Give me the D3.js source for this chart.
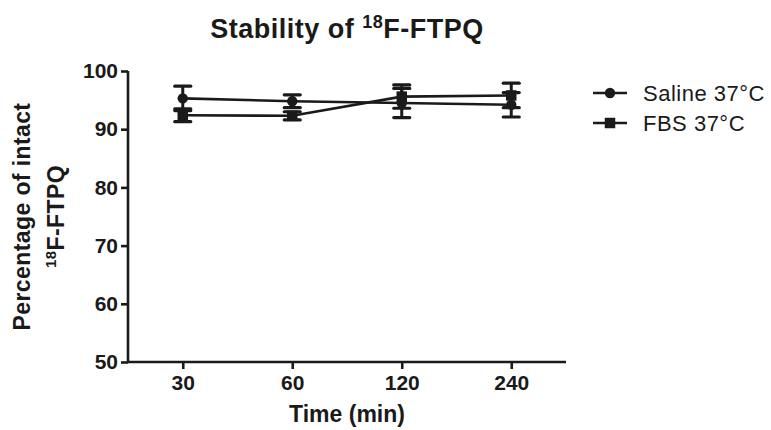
<!DOCTYPE html>
<html>
<head>
<meta charset="utf-8">
<script src="https://cdn.jsdelivr.net/npm/d3@7"></script>
<style>
  body { margin: 0; background: #fff; }
  text { font-family: "Liberation Sans", Arial, sans-serif; fill: #1a1a1a; }
</style>
</head>
<body>
<svg id="chart"></svg>
<script>
const TIMES = ["30", "60", "120", "240"];
const SALINE_MEAN = [95.3, 94.8, 94.5, 94.2];
const SALINE_ERR = [2.1, 1.1, 2.5, 2.1];
const FBS_MEAN = [92.4, 92.3, 95.6, 95.8];
const FBS_ERR = [1.1, 0.7, 2.0, 2.1];
const Y_TICKS = [50, 60, 70, 80, 90, 100];
const SERIES_NAMES = ["Saline 37\u00B0C", "FBS 37\u00B0C"];

const WIDTH = 771;
const HEIGHT = 430;
const PLOT = { left: 128, right: 566, top: 71, bottom: 362 };
const INK = "#1a1a1a";

const series = [
  { name: SERIES_NAMES[0], symbol: d3.symbolCircle, size: 85,
    points: TIMES.map((t, i) => ({ t, v: SALINE_MEAN[i], e: SALINE_ERR[i] })) },
  { name: SERIES_NAMES[1], symbol: d3.symbolSquare, size: 110,
    points: TIMES.map((t, i) => ({ t, v: FBS_MEAN[i], e: FBS_ERR[i] })) },
];

const xScale = d3.scalePoint()
  .domain(TIMES)
  .range([PLOT.left, PLOT.right])
  .padding(0.5);

const yScale = d3.scaleLinear()
  .domain([50, 100])
  .range([PLOT.bottom, PLOT.top]);

const svg = d3.select("#chart")
  .attr("width", WIDTH)
  .attr("height", HEIGHT);

// axes
const xAxis = svg.append("g")
  .attr("transform", `translate(0, ${PLOT.bottom})`)
  .call(d3.axisBottom(xScale).tickSize(7).tickSizeOuter(0).tickPadding(6));

const yAxis = svg.append("g")
  .attr("transform", `translate(${PLOT.left}, 0)`)
  .call(d3.axisLeft(yScale).tickValues(Y_TICKS).tickSize(7).tickSizeOuter(0).tickPadding(3));

[xAxis, yAxis].forEach(ax => {
  ax.select(".domain").attr("stroke", INK).attr("stroke-width", 2.6);
  ax.selectAll(".tick line").attr("stroke", INK).attr("stroke-width", 2.6);
  ax.selectAll(".tick text")
    .attr("fill", INK)
    .style("font-family", '"Liberation Sans", Arial, sans-serif')
    .style("font-size", "21px")
    .style("font-weight", "bold");
});
xAxis.select(".domain").attr("d", `M${PLOT.left},0H${PLOT.right}`);
yAxis.select(".domain").attr("d", `M0,${PLOT.top}V${PLOT.bottom}`);

// lines
const line = d3.line()
  .x(d => xScale(d.t))
  .y(d => yScale(d.v));

svg.selectAll(".series-line")
  .data(series)
  .enter()
  .append("path")
  .attr("class", "series-line")
  .attr("d", s => line(s.points))
  .attr("fill", "none")
  .attr("stroke", INK)
  .attr("stroke-width", 2.6);

// error bars
const CAP = 8;
series.forEach(s => {
  const g = svg.append("g");
  g.selectAll("line.err")
    .data(s.points)
    .enter()
    .append("line")
    .attr("class", "err")
    .attr("x1", d => xScale(d.t))
    .attr("x2", d => xScale(d.t))
    .attr("y1", d => yScale(d.v - d.e))
    .attr("y2", d => yScale(d.v + d.e))
    .attr("stroke", INK)
    .attr("stroke-width", 3);
  ["top", "bottom"].forEach(side => {
    g.selectAll("line.cap-" + side)
      .data(s.points)
      .enter()
      .append("line")
      .attr("class", "cap-" + side)
      .attr("x1", d => xScale(d.t) - CAP)
      .attr("x2", d => xScale(d.t) + CAP)
      .attr("y1", d => yScale(side === "top" ? d.v + d.e : d.v - d.e))
      .attr("y2", d => yScale(side === "top" ? d.v + d.e : d.v - d.e))
      .attr("stroke", INK)
      .attr("stroke-width", 3.2)
      .attr("stroke-linecap", "round");
  });
});

// markers
series.forEach(s => {
  svg.append("g")
    .selectAll("path")
    .data(s.points)
    .enter()
    .append("path")
    .attr("d", d3.symbol().type(s.symbol).size(s.size))
    .attr("transform", d => `translate(${xScale(d.t)}, ${yScale(d.v)})`)
    .attr("fill", INK);
});

// title
const title = svg.append("text")
  .attr("x", (PLOT.left + PLOT.right) / 2)
  .attr("y", 38)
  .attr("text-anchor", "middle")
  .style("font-size", "27px")
  .style("font-weight", "bold")
  .style("letter-spacing", "0.5px");
title.append("tspan").text("Stability of ");
title.append("tspan").attr("dy", -10).style("font-size", "18px").text("18");
title.append("tspan").attr("dy", 10).text("F-FTPQ");

// y label
const yMid = (PLOT.top + PLOT.bottom) / 2;
svg.append("text")
  .attr("transform", `translate(30, ${yMid}) rotate(-90)`)
  .attr("text-anchor", "middle")
  .style("font-size", "23px")
  .style("font-weight", "bold")
  .style("letter-spacing", "0.4px")
  .text("Percentage of intact");

const yLab2 = svg.append("text")
  .attr("transform", `translate(64, ${yMid}) rotate(-90)`)
  .attr("text-anchor", "middle")
  .style("font-size", "23px")
  .style("font-weight", "bold")
  .style("letter-spacing", "0.4px");
yLab2.append("tspan").attr("dy", -8).style("font-size", "15px").text("18");
yLab2.append("tspan").attr("dy", 8).text("F-FTPQ");

// x label
svg.append("text")
  .attr("x", (PLOT.left + PLOT.right) / 2)
  .attr("y", 422)
  .attr("text-anchor", "middle")
  .style("font-size", "23px")
  .style("font-weight", "bold")
  .text("Time (min)");

// legend
const legend = svg.append("g")
  .selectAll("g")
  .data(series)
  .enter()
  .append("g")
  .attr("transform", (d, i) => `translate(593, ${93 + i * 30})`);

legend.append("line")
  .attr("x1", 0)
  .attr("x2", 34)
  .attr("stroke", INK)
  .attr("stroke-width", 2.6);

legend.append("path")
  .attr("d", s => d3.symbol().type(s.symbol).size(s.size)())
  .attr("transform", "translate(17, 0)")
  .attr("fill", INK);

legend.append("text")
  .attr("x", 50)
  .attr("y", 8)
  .style("font-size", "22px")
  .style("letter-spacing", "0.5px")
  .text(s => s.name);
</script>
</body>
</html>
